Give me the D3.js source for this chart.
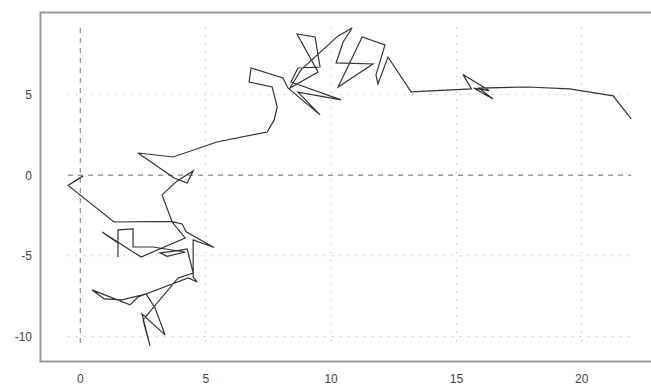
<!DOCTYPE html>
<html><head><meta charset="utf-8">
<script src="https://cdn.jsdelivr.net/npm/d3@7"></script>
<style>body{margin:0;background:#fff}svg{display:block}</style>
</head><body>
<script>
const xs = [0.11,-0.49,1.34,3.62,4.06,4.22,5.33,4.50,4.50,4.66,4.30,2.30,1.98,0.47,0.95,1.66,2.62,2.98,3.38,2.46,2.78,2.50,3.90,4.50,4.26,3.82,3.18,3.46,4.18,2.90,2.10,2.10,1.50,1.50,1.50,0.87,2.42,4.18,3.66,3.26,3.86,4.50,4.26,3.74,2.30,3.70,5.45,7.45,7.73,7.85,7.65,6.73,6.81,8.08,8.28,9.56,8.68,10.40,8.40,8.68,9.56,9.36,8.64,9.48,8.36,8.80,10.28,10.84,10.48,10.20,11.67,10.28,11.24,12.15,11.79,11.87,12.27,13.19,15.60,15.26,16.30,15.70,16.46,15.90,17.82,19.51,21.25,21.97];
const ys = [-0.04,-0.63,-2.90,-2.86,-3.02,-3.51,-4.48,-4.01,-6.31,-6.62,-6.37,-7.55,-8.04,-7.11,-7.67,-7.73,-7.36,-8.23,-9.90,-8.60,-10.59,-8.97,-6.37,-6.06,-4.57,-4.69,-4.81,-5.03,-4.76,-4.45,-4.45,-3.33,-3.39,-5.07,-4.20,-3.52,-5.07,-3.89,-2.90,-1.22,-0.35,0.27,-0.48,-0.17,1.38,1.13,2.06,2.68,3.43,4.23,5.47,5.78,6.65,6.03,5.41,3.74,5.15,4.67,5.78,6.65,6.71,8.57,8.76,6.40,5.41,6.53,8.64,9.13,8.26,6.96,6.90,5.47,8.57,8.08,6.22,5.66,7.33,5.17,5.35,6.25,5.25,5.40,4.73,5.40,5.47,5.35,4.92,3.49];
const xTicks = [0,5,10,15,20];
const yTicks = [-10,-5,0,5];

const W = 651, H = 385;
const svg = d3.select("body").append("svg").attr("width", W).attr("height", H);
const x = d3.scaleLinear().domain([-1.61, 22.72]).range([40, 650]);
const y = d3.scaleLinear().domain([-11.56, 10.12]).range([361.7, 12]);
const pts = xs.map((v, i) => [v, ys[i]]);
const xe = d3.extent(xs), ye = d3.extent(ys);

const grid = svg.append("g");
xTicks.forEach(t => {
  grid.append("line").attr("x1", x(t)).attr("x2", x(t)).attr("y1", y(ye[1])).attr("y2", y(ye[0]))
    .attr("stroke", t === 0 ? "#999" : "#aaa").attr("stroke-width", t === 0 ? 1.3 : 1)
    .attr("stroke-dasharray", t === 0 ? "5,5" : "1,7");
});
yTicks.forEach(t => {
  grid.append("line").attr("y1", y(t)).attr("y2", y(t)).attr("x1", x(xe[0])).attr("x2", x(xe[1]))
    .attr("stroke", t === 0 ? "#999" : "#aaa").attr("stroke-width", t === 0 ? 1.3 : 1)
    .attr("stroke-dasharray", t === 0 ? "5,5" : "1,7");
});

svg.append("path").attr("d", `M652,12.5H40.5V361.5H652`).attr("fill", "none")
  .attr("stroke", "#999").attr("stroke-width", 2);

svg.append("path").datum(pts)
  .attr("d", d3.line().x(d => x(d[0])).y(d => y(d[1])))
  .attr("fill", "none").attr("stroke", "#333").attr("stroke-width", 1.2);

const font = "'Liberation Sans', Arial, sans-serif";
svg.append("g").selectAll("text").data(xTicks).join("text")
  .attr("x", d => x(d)).attr("y", 383).attr("text-anchor", "middle")
  .attr("font-family", font).attr("font-size", 12).attr("fill", "#444").text(d => d);
svg.append("g").selectAll("text").data(yTicks).join("text")
  .attr("x", 32).attr("y", d => y(d)).attr("dy", "0.36em").attr("text-anchor", "end")
  .attr("font-family", font).attr("font-size", 12).attr("fill", "#444").text(d => d);
</script>
</body></html>
